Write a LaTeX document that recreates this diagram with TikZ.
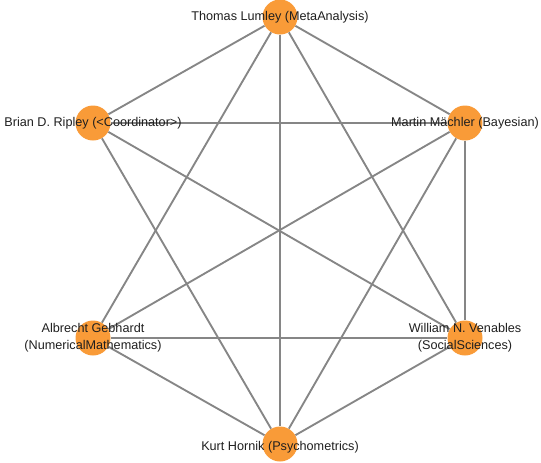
\documentclass[tikz,border=0pt]{standalone}
\usepackage{fontspec}
\setmainfont{Liberation Sans}
\usepackage{xcolor}
\usetikzlibrary{calc}
\definecolor{dotorange}{HTML}{F99B38}
\definecolor{edgegray}{HTML}{868686}

\tikzset{
  member/.style={circle, fill=dotorange, minimum size=1.05cm, inner sep=0pt},
  tie/.style={draw=edgegray, line width=1.6pt},
  who/.style={align=center, text=black!88, font=\fontsize{10.8}{14.5}\selectfont, inner sep=0pt}
}

\begin{document}
\begin{tikzpicture}[x=0.03cm, y=-0.03cm]
	% Fix the frame to the reference size
	\useasboundingbox (0,0) rectangle (541,462);
	    
	% Place the members
	\node[member] (Lumley) at (280,17) {};
	\node[member] (Maechler) at (465,123) {};
	\node[member] (Venables) at (465,338) {};
	\node[member] (Hornik) at (280,444) {};
	\node[member] (Gebhardt) at (93,338) {};
	\node[member] (Ripley) at (93,123) {};
	    
	% Draw the ties
	\foreach \a/\b in {Lumley/Maechler, Lumley/Venables, Lumley/Hornik, Lumley/Gebhardt, Lumley/Ripley,
	                   Maechler/Venables, Maechler/Hornik, Maechler/Gebhardt, Maechler/Ripley,
	                   Venables/Hornik, Venables/Gebhardt, Venables/Ripley,
	                   Hornik/Gebhardt, Hornik/Ripley}
	  \draw[tie] (\a) -- (\b);
	    
	% Write the names on top
	\node[who] (LumleyName) at (Lumley) {Thomas Lumley (MetaAnalysis)};
	\node[who] (MaechlerName) at (Maechler) {Martin Mächler (Bayesian)};
	\node[who] (VenablesName) at (Venables) {William N. Venables\\(SocialSciences)};
	\node[who] (HornikName) at ($(Hornik)+(0,3)$) {Kurt Hornik (Psychometrics)};
	\node[who] (GebhardtName) at (Gebhardt) {Albrecht Gebhardt\\(NumericalMathematics)};
	\node[who] (RipleyName) at (Ripley) {Brian D. Ripley (<Coordinator>)};
\end{tikzpicture}
\end{document}
